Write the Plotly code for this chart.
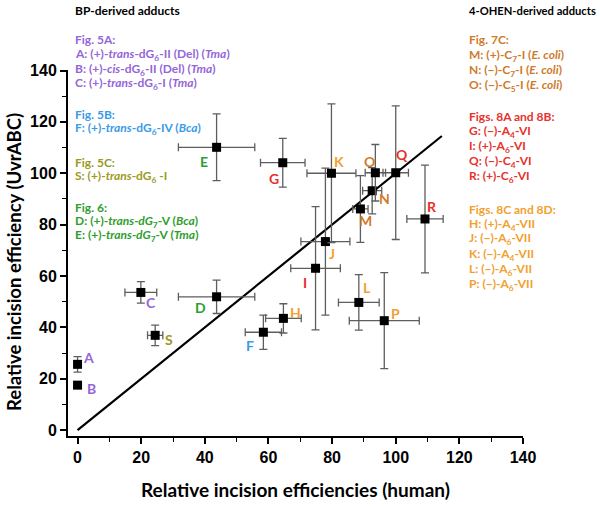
import plotly.graph_objects as go

# ---------------- data ----------------
labels = ["A", "B", "C", "S", "D", "E", "F", "G", "H", "I", "J", "K", "L", "M", "N", "O", "P", "Q", "R"]
human = [0, 0, 19.9, 24.4, 43.7, 43.7, 58.4, 64.5, 64.7, 74.8, 77.9, 79.8, 88.4, 88.9, 92.6, 93.6, 96.4, 100.0, 109.2]
uvrabc = [25.6, 17.5, 53.6, 36.9, 51.9, 110.1, 38.1, 104.1, 43.5, 63.0, 73.4, 100.0, 49.7, 86.1, 93.2, 100.2, 42.6, 100.2, 82.2]
human_err = [0, 0, 5.0, 2.4, 12.0, 12.0, 5.7, 7.0, 5.6, 7.8, 7.7, 7.7, 6.4, 2.4, 3.0, 3.2, 11.0, 4.0, 5.7]
uvrabc_err = [3.0, 0, 4.2, 4.0, 6.5, 13.0, 6.7, 9.5, 5.7, 24.0, 28.6, 27.0, 10.8, 13.0, 9.0, 11.0, 18.7, 26.0, 21.0]
line_x = [0, 114.5]
line_y = [0, 114.5]
x_ticks = [0, 20, 40, 60, 80, 100, 120, 140]
y_ticks = [0, 20, 40, 60, 80, 100, 120, 140]

left_header = "BP-derived adducts"
left_groups = [
    ("Fig. 5A:", ["A: (+)-<i>trans</i>-dG<sub>6</sub>-II (Del) (<i>Tma</i>)",
                  "B: (+)-<i>cis</i>-dG<sub>6</sub>-II (Del) (<i>Tma</i>)",
                  "C: (+)-<i>trans</i>-dG<sub>6</sub>-I (<i>Tma</i>)"]),
    ("Fig. 5B:", ["F: (+)-<i>trans</i>-dG<sub>6</sub>-IV (<i>Bca</i>)"]),
    ("Fig. 5C:", ["S: (+)-<i>trans</i>-dG<sub>6</sub> -I"]),
    ("Fig. 6:", ["D: (+)-<i>trans-dG</i><sub>7</sub>-V (<i>Bca</i>)",
                 "E: (+)-<i>trans-dG</i><sub>7</sub>-V (<i>Tma</i>)"]),
]
right_header = "4-OHEN-derived adducts"
right_groups = [
    ("Fig. 7C:", ["M: (+)-C<sub>7</sub>-I (<i>E. coli</i>)",
                  "N: (\u2212)-C<sub>7</sub>-I (<i>E. coli</i>)",
                  "O: (\u2212)-C<sub>5</sub>-I (<i>E. coli</i>)"]),
    ("Figs. 8A and 8B:", ["G: (\u2212)-A<sub>4</sub>-VI",
                          "I: (+)-A<sub>6</sub>-VI",
                          "Q: (\u2212)-C<sub>4</sub>-VI",
                          "R: (+)-C<sub>6</sub>-VI"]),
    ("Figs. 8C and 8D:", ["H: (+)-A<sub>4</sub>-VII",
                          "J: (\u2212)-A<sub>6</sub>-VII",
                          "K: (\u2212)-A<sub>4</sub>-VII",
                          "L: (\u2212)-A<sub>6</sub>-VII",
                          "P: (\u2212)-A<sub>6</sub>-VII"]),
]

# ---------------- styles ----------------
PURPLE = "#9466d8"
BLUE = "#3a9be6"
OLIVE = "#9c9a1e"
GREEN = "#2e9e2e"
BROWN = "#cf7a2a"
RED = "#e8312a"
ORANGE = "#f2a02e"
label_color = {"A": PURPLE, "B": PURPLE, "C": PURPLE, "F": BLUE, "S": OLIVE, "D": GREEN, "E": GREEN,
               "M": BROWN, "N": BROWN, "O": BROWN, "G": RED, "I": RED, "Q": RED, "R": RED,
               "H": ORANGE, "J": ORANGE, "K": ORANGE, "L": ORANGE, "P": ORANGE}
left_colors = [PURPLE, BLUE, OLIVE, GREEN]
right_colors = [BROWN, RED, ORANGE]
# label offsets in screen pixels (dx right, dy down)
label_offset = {"A": (11, -7), "B": (14, 3), "C": (10, 10), "S": (14, 4), "D": (-16, 11), "F": (-13, 13),
                "E": (-13, 14), "G": (-9, 16), "K": (8, -12), "O": (-6, -11), "Q": (6, -18), "N": (12, 8),
                "M": (5, 12), "R": (7, -12), "J": (7, 12), "I": (-11, 14), "L": (8, -15), "P": (11, -7),
                "H": (12, -6)}

TXT_FONT = "Lato"
ERR_COLOR = "#5e5e5e"

W, H = 600, 506
ML, MR, MT, MB = 68, 77, 70, 70
PW, PH = W - ML - MR, H - MT - MB


def px2paper(px, py):
    return (px - ML) / PW, (H - MB - py) / PH


fig = go.Figure()

# diagonal reference line
fig.add_trace(go.Scatter(x=line_x, y=line_y, mode="lines",
                         line=dict(color="black", width=2.2), hoverinfo="skip", showlegend=False))

for lab, xv, yv, xe, ye in zip(labels, human, uvrabc, human_err, uvrabc_err):
    fig.add_trace(go.Scatter(
        x=[xv], y=[yv], mode="markers",
        marker=dict(symbol="square", size=9, color="black"),
        error_x=dict(type="data", array=[xe], visible=xe > 0, color=ERR_COLOR, thickness=1.3, width=4),
        error_y=dict(type="data", array=[ye], visible=ye > 0, color=ERR_COLOR, thickness=1.3, width=4),
        showlegend=False, name=lab))

annotations = []
for lab, xv, yv in zip(labels, human, uvrabc):
    dx, dy = label_offset[lab]
    annotations.append(dict(x=xv, y=yv, xref="x", yref="y", text="<b>%s</b>" % lab, showarrow=False,
                            xshift=dx, yshift=-dy, xanchor="center", yanchor="middle",
                            font=dict(family=TXT_FONT, size=14, color=label_color[lab])))


def add_block(x_px, header, groups, colors, header_y, group_starts, spacing, header_size):
    x, y = px2paper(x_px, header_y)
    annotations.append(dict(x=x, y=y, xref="paper", yref="paper", text="<b>%s</b>" % header,
                            showarrow=False, xanchor="left", yanchor="middle",
                            font=dict(family=TXT_FONT, size=header_size, color="black")))
    for (title, lines), col, y0 in zip(groups, colors, group_starts):
        for k, t in enumerate([title] + lines):
            x, y = px2paper(x_px, y0 + k * spacing)
            annotations.append(dict(x=x, y=y, xref="paper", yref="paper", text="<b>%s</b>" % t,
                                    showarrow=False, xanchor="left", yanchor="middle",
                                    font=dict(family=TXT_FONT, size=12, color=col)))


add_block(73, left_header, left_groups, left_colors, 10, [40, 114, 162, 207], 14.5, 12)
add_block(467, right_header, right_groups, right_colors, 10, [40, 116, 209], 15, 11.2)

# axis titles
x, y = px2paper((ML + W - MR) / 2, 489)
annotations.append(dict(x=x, y=y, xref="paper", yref="paper", showarrow=False,
                        text="<b>Relative incision efficiencies (human)</b>",
                        font=dict(family=TXT_FONT, size=19, color="black"), xanchor="center", yanchor="middle"))
x, y = px2paper(14, 262)
annotations.append(dict(x=x, y=y, xref="paper", yref="paper", showarrow=False, textangle=-90,
                        text="<b>Relative incision efficiency (UvrABC)</b>",
                        font=dict(family=TXT_FONT, size=18.5, color="black"), xanchor="center", yanchor="middle"))

axis_common = dict(showline=True, linecolor="black", linewidth=2, ticks="outside", ticklen=6, tickwidth=1.6,
                   tickcolor="black", showgrid=False, zeroline=False,
                   tickfont=dict(family="Liberation Sans", size=16, color="black", weight="bold"),
                   minor=dict(ticks="outside", dtick=10, tick0=0, ticklen=4, tickwidth=1.4, tickcolor="black",
                              showgrid=False))

fig.update_layout(
    width=W, height=H, margin=dict(l=ML, r=MR, t=MT, b=MB),
    plot_bgcolor="white", paper_bgcolor="white", showlegend=False,
    xaxis=dict(range=[-3, 140], tickvals=x_ticks, ticktext=[str(v) for v in x_ticks], **axis_common),
    yaxis=dict(range=[-2.3, 140.2], tickvals=y_ticks, ticktext=[str(v) for v in y_ticks], **axis_common),
    annotations=annotations,
)

fig.write_html("out.html", config={"displayModeBar": False},
               post_script="document.body.style.margin='0';document.body.style.overflow='hidden';")
